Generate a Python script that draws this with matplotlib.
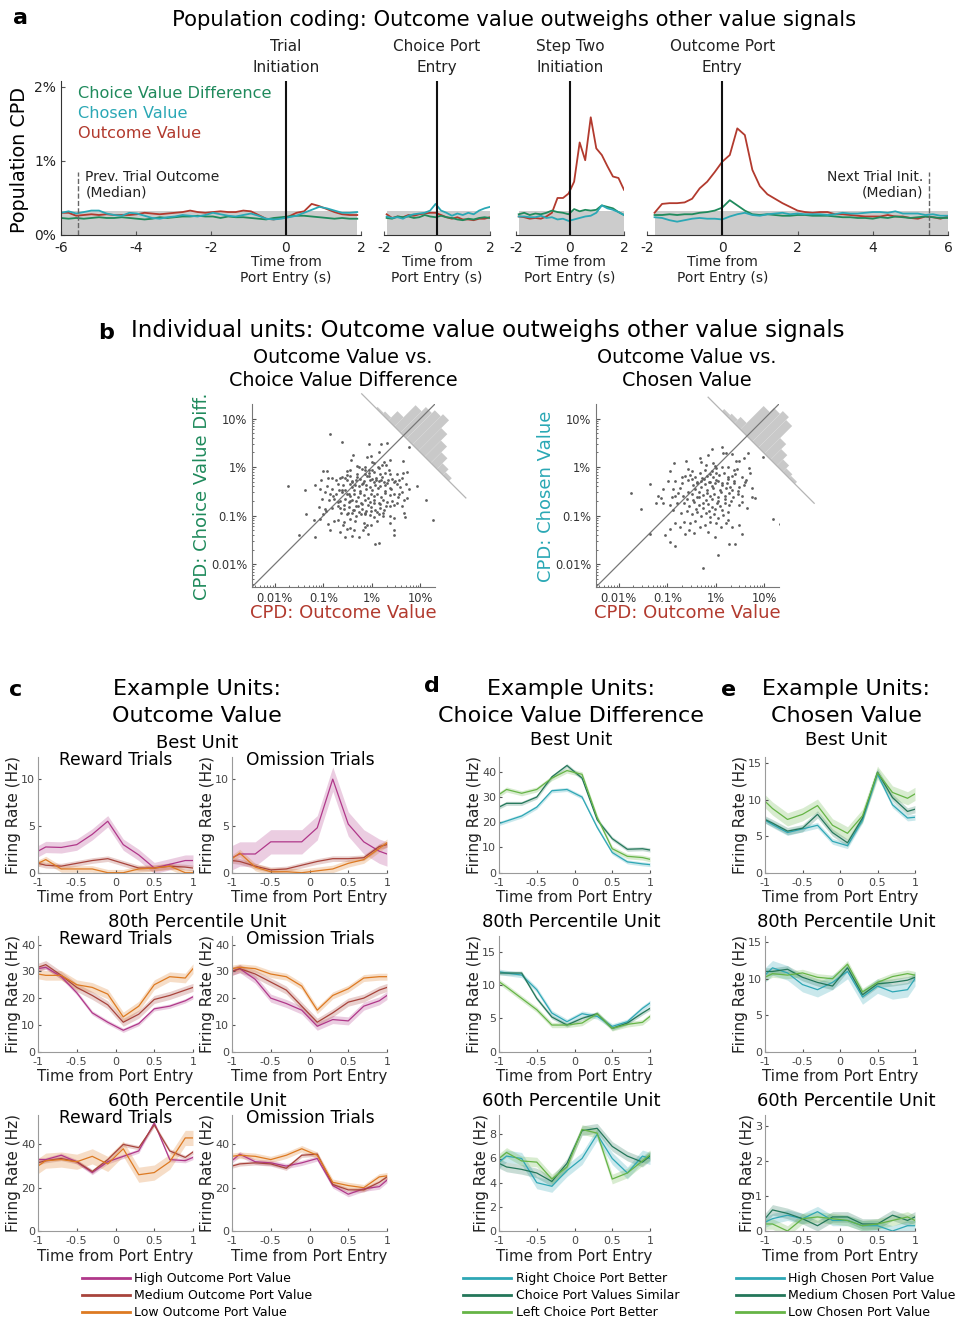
import numpy as np
import matplotlib
matplotlib.use("Agg")
import matplotlib.pyplot as plt
from matplotlib.transforms import Affine2D
from matplotlib.lines import Line2D

W, H = 958, 1319

# ---------------- panel a: population CPD (%) ----------------
t_init = np.linspace(-6.0, 1.9, 40)
t_choice = np.linspace(-1.9, 2.0, 20)
t_step = np.linspace(-1.9, 2.0, 20)
t_outcome = np.linspace(-1.8, 6.0, 40)

ov_init = [0.30, 0.30, 0.26, 0.27, 0.28, 0.27, 0.28, 0.27, 0.27, 0.27, 0.28, 0.30, 0.29, 0.28, 0.29, 0.30,
           0.31, 0.33, 0.31, 0.30, 0.31, 0.32, 0.31, 0.31, 0.33, 0.32, 0.27, 0.22, 0.21, 0.23, 0.25, 0.30,
           0.32, 0.42, 0.39, 0.35, 0.31, 0.28, 0.27, 0.27]
cv_init = [0.30, 0.32, 0.29, 0.31, 0.33, 0.33, 0.29, 0.27, 0.26, 0.30, 0.29, 0.26, 0.23, 0.22, 0.24, 0.25,
           0.27, 0.26, 0.25, 0.27, 0.30, 0.28, 0.26, 0.25, 0.27, 0.29, 0.26, 0.22, 0.21, 0.22, 0.24, 0.26,
           0.30, 0.34, 0.38, 0.36, 0.33, 0.30, 0.30, 0.31]
cvd_init = [0.23, 0.22, 0.23, 0.22, 0.23, 0.24, 0.23, 0.23, 0.24, 0.23, 0.22, 0.21, 0.22, 0.24, 0.23, 0.24,
            0.25, 0.25, 0.26, 0.25, 0.25, 0.23, 0.25, 0.24, 0.24, 0.23, 0.22, 0.21, 0.23, 0.24, 0.25, 0.26,
            0.26, 0.25, 0.24, 0.23, 0.22, 0.23, 0.22, 0.22]

ov_choice = [0.28, 0.23, 0.25, 0.24, 0.27, 0.26, 0.28, 0.29, 0.30, 0.30, 0.27, 0.24, 0.22, 0.24, 0.21, 0.21,
             0.20, 0.22, 0.22, 0.24]
cv_choice = [0.25, 0.23, 0.24, 0.22, 0.26, 0.28, 0.29, 0.30, 0.33, 0.42, 0.33, 0.30, 0.26, 0.29, 0.27, 0.30,
             0.28, 0.33, 0.36, 0.38]
cvd_choice = [0.23, 0.22, 0.25, 0.24, 0.25, 0.23, 0.24, 0.27, 0.25, 0.24, 0.26, 0.24, 0.23, 0.21, 0.20, 0.22,
              0.21, 0.23, 0.24, 0.23]

ov_step = [0.25, 0.24, 0.22, 0.23, 0.22, 0.25, 0.30, 0.50, 0.50, 0.56, 0.72, 1.25, 1.01, 1.59, 1.17, 1.08,
           0.93, 0.79, 0.77, 0.61]
cv_step = [0.25, 0.25, 0.24, 0.24, 0.26, 0.23, 0.24, 0.21, 0.22, 0.19, 0.21, 0.23, 0.25, 0.26, 0.30, 0.40,
           0.36, 0.34, 0.31, 0.27]
cvd_step = [0.28, 0.30, 0.27, 0.29, 0.28, 0.30, 0.33, 0.31, 0.30, 0.28, 0.35, 0.32, 0.34, 0.33, 0.34, 0.40,
            0.38, 0.36, 0.31, 0.27]

ov_outcome = [0.30, 0.42, 0.43, 0.43, 0.44, 0.49, 0.63, 0.72, 0.85, 0.99, 1.08, 1.44, 1.35, 0.88, 0.66, 0.55,
              0.49, 0.43, 0.38, 0.33, 0.31, 0.30, 0.31, 0.31, 0.28, 0.28, 0.27, 0.26, 0.25, 0.25, 0.25, 0.27,
              0.25, 0.25, 0.23, 0.22, 0.25, 0.24, 0.22, 0.25]
cv_outcome = [0.24, 0.23, 0.20, 0.18, 0.20, 0.22, 0.23, 0.22, 0.22, 0.21, 0.25, 0.28, 0.30, 0.27, 0.26, 0.28,
              0.29, 0.30, 0.28, 0.29, 0.28, 0.28, 0.28, 0.27, 0.28, 0.30, 0.29, 0.29, 0.30, 0.31, 0.31, 0.30,
              0.32, 0.29, 0.29, 0.29, 0.27, 0.28, 0.26, 0.26]
cvd_outcome = [0.27, 0.27, 0.28, 0.27, 0.28, 0.28, 0.30, 0.31, 0.33, 0.37, 0.47, 0.40, 0.33, 0.28, 0.27, 0.28,
               0.27, 0.26, 0.26, 0.27, 0.27, 0.26, 0.26, 0.26, 0.25, 0.24, 0.24, 0.23, 0.23, 0.22, 0.24, 0.23,
               0.25, 0.24, 0.23, 0.24, 0.25, 0.24, 0.23, 0.23]

null_band = 0.32          # shuffled-CPD band top (%)
prev_outcome_median = -5.55
next_init_median = 5.5

# ---------------- panel b: per-unit CPD, log10(%) ----------------
b1_ov = [-0.855, -0.615, -0.051, 0.196, 0.313, 0.141, -0.388, 0.76, -0.10, -0.01, -0.43, 0.038, 0.643, 0.38, 0.244,
         -0.271, -0.203, -0.134, -0.065, 0.004, 0.12, 0.21, -0.443, -0.512, -1.007, -0.924, -0.663, -0.615, -0.306,
         -0.134, 0.038, 0.093, 0.175, 0.278, 0.381, 0.519, 0.643, 0.725, 0.347, -0.1, -0.443, -0.512, -0.065,
         -1.048, -0.911, -0.821, -0.732, -0.512, -0.409, -0.319, -0.237, -0.155, -0.045, 0.004, 0.052, 0.141,
         0.189, 0.244, 0.333, 0.416, 0.485, 0.553, 0.622, -0.704, -0.594, -0.457, -0.409, -0.34, -0.271, -0.203,
         -0.113, -0.031, 0.072, 0.175, 0.278, 0.381, 0.519, 0.588, 0.76, 0.931, -0.924, -1.062, -0.821, -0.684,
         -0.546, -0.959, -0.855, -0.732, -0.615, -0.512, -0.443, -0.361, -0.292, -0.237, -0.155, -0.086, -0.017,
         0.052, 0.107, 0.189, 0.278, 0.368, 0.464, 0.533, 0.622, 0.725, -1.027, -0.89, -0.787, -0.663, -0.546,
         -0.478, -0.409, -0.319, -0.223, -0.134, -0.045, 0.038, 0.141, 0.23, 0.313, 0.416, 0.519, 0.67, 1.124,
         -1.096, -0.959, -0.821, -0.704, -0.581, -0.478, -0.374, -0.292, -0.203, -0.113, -0.017, 0.072, 0.175,
         0.258, 0.368, 0.464, -0.636, -0.512, -0.409, -0.319, -0.223, -0.134, -0.045, 0.052, 0.141, 0.23, -1.35,
         -1.199, -1.075, -1.007, -0.911, -0.773, -0.704, -0.581, -0.443, -0.34, -0.168, -0.1, -0.017, 0.107,
         0.368, 0.368, 0.656, 0.691, 1.261, -0.855, -0.649, -0.546, -0.409, -0.271, -0.182, -0.086, -0.134,
         0.072, 0.155, 0.45, 0.45, -1.508, -1.179, -1.728, -1.371, -1.165, -0.512, -0.374,
         -0.55, -0.42, -0.3, -0.18, -0.05, 0.08, 0.2, 0.32, 0.45, -0.62, -0.48, -0.36, -0.24, -0.12, 0.0, 0.13,
         0.26, 0.4, -0.7, -0.57, -0.45, -0.33, -0.2, -0.08, 0.05, 0.17, 0.3, -0.5, -0.38, -0.26, -0.14, -0.02,
         0.1, 0.22, -0.8, -0.66, 0.55, 0.62, -0.95, 0.7, -0.3, -0.15, 0.0, 0.15, 0.3, -0.45, -0.6, 0.45]
b1_cvd = [0.672, 0.521, 0.473, 0.486, 0.500, 0.315, 0.246, 0.404, 0.21, 0.225, 0.143, 0.088, 0.129, 0.143, 0.108,
          -0.008, -0.029, 0.005, -0.05, -0.063, 0.005, 0.04, -0.063, -0.084, -0.077, -0.084, -0.215, -0.201, -0.132,
          -0.132, -0.098, -0.215, -0.132, -0.119, -0.132, -0.146, -0.119, -0.105, -0.063, -0.187, -0.187, -0.167,
          -0.119, -0.256, -0.215, -0.215, -0.27, -0.256, -0.283, -0.256, -0.242, -0.283, -0.27, -0.235, -0.304,
          -0.283, -0.256, -0.304, -0.27, -0.235, -0.283, -0.256, -0.215, -0.352, -0.373, -0.338, -0.407, -0.373,
          -0.393, -0.338, -0.373, -0.407, -0.359, -0.393, -0.373, -0.421, -0.352, -0.407, -0.441, -0.393, -0.393,
          -0.441, -0.441, -0.462, -0.462, -0.510, -0.545, -0.558, -0.510, -0.545, -0.600, -0.558, -0.613, -0.531,
          -0.579, -0.627, -0.545, -0.600, -0.558, -0.613, -0.531, -0.579, -0.545, -0.613, -0.510, -0.627, -0.648,
          -0.668, -0.648, -0.696, -0.648, -0.716, -0.668, -0.696, -0.737, -0.682, -0.716, -0.668, -0.737, -0.682,
          -0.716, -0.696, -0.737, -0.682, -0.668, -0.82, -0.854, -0.833, -0.806, -0.854, -0.82, -0.875, -0.806,
          -0.854, -0.902, -0.82, -0.875, -0.833, -0.888, -0.806, -0.785, -0.943, -0.971, -0.943, -1.012, -0.971,
          -0.943, -0.991, -1.026, -0.957, -1.012, -0.957, -1.081, -1.06, -0.971, -1.177, -1.108, -1.081, -1.129,
          -1.06, -1.108, -1.149, -1.198, -1.198, -1.108, -1.012, -1.149, -0.943, -1.026, -1.094, -1.301, -1.335,
          -1.438, -1.424, -1.438, -1.301, -1.383, -1.232, -1.589, -1.562, -1.39, -1.287, -1.39, -1.438, -0.387,
          -0.476, -0.359, -1.266, -1.301,
          -0.22, -0.3, -0.2, -0.32, -0.18, -0.26, -0.2, -0.33, -0.3, -0.48, -0.55, -0.47, -0.5, -0.45, -0.48, -0.44,
          -0.5, -0.46, -0.72, -0.78, -0.7, -0.8, -0.76, -0.79, -0.73, -0.77, -0.8, -0.95, -0.88, -0.92, -0.97, -0.9,
          -0.93, -0.95, -0.6, -0.85, -0.55, -0.8, -0.9, -0.35, 0.02, -0.05, 0.1, -0.02, 0.05, -1.25, -1.2, -1.05]

b2_ov = [0.121, -0.086, 0.659, -0.169, 0.969, -0.624, -0.859, -0.328, -0.307, -0.052, -0.017, 0.155, 0.328, 0.41,
         0.479, 0.569, 0.259, 0.383, 0.431, 0.134, -0.086, -0.224, -0.5, -0.948, -0.583, 0.686, -0.638, -0.534,
         -0.431, -0.328, -0.279, -0.19, -0.121, -0.052, -0.003, 0.066, 0.176, 0.245, 0.328, 0.397, 0.534, 0.617,
         0.707, -0.997, -0.845, -0.693, -0.569, -0.466, -0.397, -0.307, -0.224, -0.141, -0.086, -0.017, 0.052,
         0.134, 0.224, 0.293, 0.383, 0.466, 0.569, 0.741, -0.741, -0.879, -1.086, -1.19, -1.121, -0.914, -0.776,
         -0.672, -0.569, -0.486, -0.397, -0.348, -0.259, -0.19, -0.121, -0.031, 0.038, 0.107, 0.19, 0.272, 0.362,
         0.452, 0.534, 0.741, 0.797, -1.224, -1.086, -0.948, -0.81, -0.652, -0.555, -0.445, -0.348, -0.259, -0.155,
         -0.072, 0.017, 0.086, 0.19, 0.272, 0.466, 0.534, -0.879, -0.721, -0.603, -0.5, -0.397, -0.307, -0.21,
         -0.121, -0.031, 0.052, 0.155, 0.245, -0.652, -0.534, -0.431, -0.328, -0.224, -0.121, -0.003, 0.107,
         0.203, 0.328, 0.479, 0.534, -0.948, -0.845, -0.741, -0.548, -1.755, -1.534, -1.362, -1.362, -1.052,
         -0.948, -0.845, -0.638, -0.445, -0.259, 0.052, 0.272, 0.397, 1.176, 1.314, -0.155, -0.017,
         -0.5, -0.38, -0.25, -0.12, 0.0, 0.12, 0.25, 0.38, -0.44, -0.31, -0.18, -0.05, 0.08, 0.2, 0.33, 0.46,
         -0.6, -0.47, -0.34, -0.21, -0.08, 0.05, 0.18, 0.31, -0.4, -0.27, -0.14, -0.01, 0.12, 0.25, -0.7, 0.6,
         -0.85, 0.65, -0.2, 0.0, 0.2]
b2_cv = [0.423, 0.368, 0.299, 0.251, 0.217, 0.134, 0.079, 0.182, 0.113, 0.093, 0.024, 0.285, 0.272, 0.134, 0.134,
         0.182, -0.004, -0.059, -0.045, 0.01, -0.073, -0.059, -0.073, -0.08, -0.045, -0.024, -0.183, -0.162,
         -0.21, -0.128, -0.231, -0.183, -0.142, -0.21, -0.114, -0.162, -0.128, -0.21, -0.183, -0.142, -0.21,
         -0.265, -0.128, -0.279, -0.279, -0.334, -0.265, -0.369, -0.321, -0.279, -0.348, -0.3, -0.39, -0.334,
         -0.279, -0.369, -0.321, -0.403, -0.334, -0.417, -0.369, -0.438, -0.438, -0.458, -0.458, -0.596, -0.644,
         -0.624, -0.541, -0.596, -0.507, -0.555, -0.61, -0.507, -0.576, -0.527, -0.596, -0.555, -0.624, -0.507,
         -0.596, -0.541, -0.624, -0.555, -0.596, -0.61, -0.644, -0.748, -0.748, -0.782, -0.734, -0.748, -0.803,
         -0.713, -0.782, -0.734, -0.761, -0.817, -0.734, -0.803, -0.748, -0.782, -0.782, -0.713, -0.885, -0.94,
         -0.899, -0.968, -0.92, -1.009, -0.954, -1.037, -0.968, -1.058, -0.989, -1.092, -1.126, -1.161, -1.106,
         -1.23, -1.195, -1.126, -1.161, -1.23, -1.147, -1.243, -1.195, -1.381, -1.285, -1.161, -1.23, -1.299,
         -0.527, -0.865, -0.355, -1.388, -1.402, -1.54, -1.622, -1.381, -1.367, -2.077, -1.801, -1.588, -1.588,
         -1.071, -1.182, -1.333, -1.436,
         -0.25, -0.3, -0.24, -0.3, -0.26, -0.32, -0.25, -0.28, -0.45, -0.42, -0.47, -0.43, -0.48, -0.44, -0.47,
         -0.5, -0.66, -0.68, -0.62, -0.67, -0.65, -0.7, -0.66, -0.69, -0.87, -0.85, -0.9, -0.86, -0.88, -0.92,
         -0.2, -0.3, -0.6, -0.85, 0.05, -0.02, 0.3]

# rotated histograms of log10(CPD_outcome / CPD_other)
h1_centers = [-1.0, -0.75, -0.5, -0.25, 0.0, 0.25, 0.5, 0.75, 1.0, 1.25, 1.5, 1.75]
h1_counts = [2, 4, 13, 30, 36, 40, 43, 32, 23, 15, 8, 4]
h2_centers = [-0.9, -0.65, -0.4, -0.15, 0.1, 0.35, 0.6, 0.85, 1.1, 1.35, 1.6, 1.85]
h2_counts = [3, 5, 9, 33, 39, 43, 39, 22, 15, 9, 5, 3]

# ---------------- panels c-e: example units (Hz) ----------------
t_unit = [-1.0, -0.9, -0.7, -0.5, -0.3, -0.1, 0.1, 0.3, 0.5, 0.7, 0.9, 1.0]

c_best_rew = [[2.3, 2.75, 2.7, 3.0, 4.1, 5.5, 3.0, 1.9, 0.5, 0.9, 1.3, 1.3],
              [1.0, 0.8, 0.7, 1.0, 1.3, 1.5, 1.0, 0.5, 0.5, 0.7, 0.6, 0.5],
              [1.0, 1.4, 0.4, 0.4, 0.4, 0.0, 0.0, 0.4, 0.5, 0.7, 0.0, 0.0]]
c_best_om = [[1.6, 2.0, 2.0, 3.3, 3.3, 3.3, 4.8, 10.0, 5.2, 3.3, 2.3, 2.0],
             [1.3, 1.2, 0.7, 0.3, 0.4, 0.8, 1.2, 1.5, 1.5, 1.6, 2.8, 3.0],
             [1.5, 2.1, 0.6, 0.1, 0.1, 0.0, 0.2, 0.4, 1.0, 1.4, 2.6, 3.2]]
c_80_rew = [[31, 31.5, 28, 22, 14.5, 11, 8, 10.5, 16, 17, 19, 20.5],
            [31.5, 32.5, 28.5, 24, 21, 17.5, 11, 14, 19.5, 21, 23, 24],
            [29, 28.5, 28.5, 25, 24, 21.5, 13, 17, 25, 28, 27.5, 31]]
c_80_om = [[30, 31, 27, 20, 18, 15.5, 9.5, 12, 11.5, 17, 19, 21],
           [30, 31, 29, 26, 23, 17, 11, 14.5, 18.5, 20, 23, 24],
           [31, 31.5, 31, 29, 28, 24.5, 15.5, 21, 23.5, 27.5, 28, 28]]
c_60_rew = [[33, 33, 35, 32, 27, 32, 34.5, 37, 50, 33, 32.5, 34],
            [31.5, 32.5, 33.5, 32, 27.5, 33, 40, 38.5, 49, 37, 34, 36.5],
            [30, 32.5, 33, 32, 34.5, 31, 38, 26, 27, 32, 43, 43]]
c_60_om = [[32.5, 35.5, 32, 31.5, 30, 31.5, 33.5, 21, 17, 19.5, 20.5, 23.5],
           [30, 31, 31.5, 31, 29, 35, 35.5, 21.5, 19, 19, 22.5, 25],
           [34.5, 35, 34.5, 33, 35, 38, 35, 22.5, 21, 20, 25, 25.5]]

d_best = [[19.5, 20.5, 22.5, 26, 32.5, 33, 30, 18, 8, 4.3, 3.5, 3.2],
          [26, 27.5, 27.5, 30, 38, 42.5, 37.5, 21, 13.5, 9.3, 9.5, 9.0],
          [31, 33, 31.5, 33, 37.5, 40.5, 39, 22, 9.5, 6.5, 6, 5.3]]
d_80 = [[12, 11.8, 11.5, 9.3, 5.8, 4.5, 5.7, 5.3, 3.8, 4.5, 6.5, 7.3],
        [11.8, 11.8, 11.8, 8.0, 5.2, 4.0, 5.0, 5.7, 3.5, 4.3, 5.8, 6.5],
        [10.5, 9.7, 8, 6.3, 4, 4, 4.3, 5.7, 3.5, 4.1, 4.4, 5.3]]
d_60 = [[5.7, 6.2, 6.0, 4.0, 3.7, 5.0, 6.0, 8.0, 6.0, 4.8, 6.2, 6.0],
        [5.6, 5.3, 5.1, 4.8, 4.1, 5.6, 8.3, 8.5, 7.0, 6.2, 5.7, 6.2],
        [6.0, 6.5, 5.8, 5.7, 4.3, 5.3, 8.4, 8.1, 4.3, 4.8, 5.8, 6.3]]

e_best = [[7.2, 6.6, 5.5, 6.0, 6.5, 4.3, 3.7, 7.2, 13.5, 9.3, 7.5, 7.6],
          [7.3, 6.8, 5.7, 6.1, 8.0, 5.5, 4.1, 7.5, 13.8, 10.3, 8.4, 8.7],
          [9.8, 8.8, 7.3, 8.0, 9.2, 6.5, 5.4, 7.8, 13.7, 11.0, 10.2, 10.8]]
e_80 = [[10.5, 11.5, 10.8, 9.2, 8.5, 9.5, 11.0, 7.5, 9.0, 8.2, 8.5, 10.0],
        [11.0, 11.0, 11.3, 10.2, 9.5, 9.0, 11.5, 7.8, 9.3, 9.5, 9.8, 10.2],
        [10.2, 10.7, 10.5, 10.8, 10.2, 10.0, 12.0, 8.2, 9.5, 10.3, 10.7, 10.5]]
e_60 = [[0.25, 0.35, 0.45, 0.35, 0.55, 0.3, 0.3, 0.15, 0.15, 0.0, 0.15, 0.15],
        [0.35, 0.6, 0.5, 0.35, 0.15, 0.4, 0.4, 0.2, 0.2, 0.45, 0.3, 0.4],
        [0.2, 0.2, 0.0, 0.35, 0.4, 0.35, 0.3, 0.15, 0.2, 0.3, 0.4, 0.3]]

# band half-widths (SEM) per series
sem_c = {'best_rew': [0.6, 0.3, 0.35], 'best_om': [1.3, 0.3, 0.4],
         '80_rew': [0.8, 1.5, 1.8], '80_om': [1.5, 1.5, 1.3],
         '60_rew': [1.0, 1.0, 3.5], '60_om': [1.2, 1.0, 1.5]}
sem_d = {'best': [0.8, 0.8, 1.0], '80': [0.4, 0.3, 0.4], '60': [0.5, 0.4, 0.4]}
sem_e = {'best': [0.4, 0.5, 0.9], '80': [1.0, 0.5, 0.5], '60': [0.15, 0.15, 0.15]}

legend_c = ['High Outcome Port Value', 'Medium Outcome Port Value', 'Low Outcome Port Value']
legend_d = ['Right Choice Port Better', 'Choice Port Values Similar', 'Left Choice Port Better']
legend_e = ['High Chosen Port Value', 'Medium Chosen Port Value', 'Low Chosen Port Value']

# colours
col_cvd, col_cv, col_ov = '#1f8a5c', '#2aa8b5', '#b23a2e'
cols_c = ['#b0388a', '#a8443c', '#dd7a22']
cols_de = ['#2ea7b5', '#24775a', '#66b446']

plt.rcParams['font.family'] = ['DejaVu Sans']
plt.rcParams['xtick.direction'] = 'in'
plt.rcParams['ytick.direction'] = 'in'
plt.rcParams['xtick.major.size'] = 3
plt.rcParams['ytick.major.size'] = 3
plt.rcParams['xtick.color'] = '#555555'
plt.rcParams['ytick.color'] = '#555555'
plt.rcParams['axes.linewidth'] = 0.8

fig = plt.figure(figsize=(W / 100, H / 100), dpi=100)


def pax(l, t, w, h):
    return fig.add_axes([l / W, 1 - (t + h) / H, w / W, h / H])


def ptext(x, y, s, **kw):
    kw.setdefault('ha', 'center')
    kw.setdefault('va', 'center')
    fig.text(x / W, 1 - y / H, s, **kw)


# ======================= panel a =======================
ptext(20, 18, 'a', fontsize=16, fontweight='bold')
ptext(514, 20, 'Population coding: Outcome value outweighs other value signals', fontsize=15.2)
ptext(20, 160, 'Population CPD', rotation=90, fontsize=13.8)

a_specs = [(61, 300, (-6, 2), [-6, -4, -2, 0, 2], t_init, ov_init, cv_init, cvd_init, 'Trial\nInitiation'),
           (384, 106, (-2, 2), [-2, 0, 2], t_choice, ov_choice, cv_choice, cvd_choice, 'Choice Port\nEntry'),
           (516, 108, (-2, 2), [-2, 0, 2], t_step, ov_step, cv_step, cvd_step, 'Step Two\nInitiation'),
           (647, 301, (-2, 6), [-2, 0, 2, 4, 6], t_outcome, ov_outcome, cv_outcome, cvd_outcome,
            'Outcome Port\nEntry')]
a_axes = []
for i, (left, width, xl, xt, t, ov, cv, cvd, event) in enumerate(a_specs):
    ax = pax(left, 81, width, 154)
    ax.fill_between([t[0], t[-1]], 0, null_band, color='#cccccc', lw=0)
    ax.plot(t, ov, color=col_ov, lw=1.3)
    ax.plot(t, cvd, color=col_cvd, lw=1.3)
    ax.plot(t, cv, color=col_cv, lw=1.3)
    ax.axvline(0, color='#111111', lw=1.5)
    ax.set_xlim(*xl)
    ax.set_ylim(0, 2.08)
    ax.set_xticks(xt)
    ax.set_xticklabels([str(v) for v in xt], fontsize=10, color='#222222')
    ax.tick_params(axis='x', pad=4)
    for s in ['top', 'right']:
        ax.spines[s].set_visible(False)
    ax.spines['bottom'].set_color('#333333')
    if i == 0:
        ax.set_yticks([0, 1, 2])
        ax.set_yticklabels(['0%', '1%', '2%'], fontsize=10, color='#222222')
        ax.spines['left'].set_color('#333333')
    else:
        ax.spines['left'].set_visible(False)
        ax.set_yticks([])
    ax.text(0, -0.225, 'Time from\nPort Entry (s)', transform=ax.get_xaxis_transform(),
            ha='center', va='center', fontsize=10, color='#222222', linespacing=1.2)
    ax.text(0, 1.04, event, transform=ax.get_xaxis_transform(), ha='center', va='bottom',
            fontsize=11, color='#222222', linespacing=1.45)
    a_axes.append(ax)

ax = a_axes[0]
ax.plot([prev_outcome_median] * 2, [0, 0.85], ls='--', color='#666666', lw=1)
ax.text(prev_outcome_median + 0.2, 0.68, 'Prev. Trial Outcome\n(Median)', fontsize=10, color='#222222',
        ha='left', va='center', linespacing=1.2)
ax = a_axes[3]
ax.plot([next_init_median] * 2, [0, 0.85], ls='--', color='#666666', lw=1)
ax.text(next_init_median - 0.15, 0.68, 'Next Trial Init.\n(Median)', fontsize=10, color='#222222',
        ha='right', va='center', linespacing=1.2)

ptext(78, 93, 'Choice Value Difference', ha='left', fontsize=11.6, color=col_cvd)
ptext(78, 114, 'Chosen Value', ha='left', fontsize=11.6, color=col_cv)
ptext(78, 134, 'Outcome Value', ha='left', fontsize=11.6, color=col_ov)

# ======================= panel b =======================
ptext(106, 333, 'b', fontsize=16, fontweight='bold')
ptext(488, 331, 'Individual units: Outcome value outweighs other value signals', fontsize=16.5)

lo, hi = -2.47, 1.3
k_px = 1.0 / (48.5 * np.sqrt(2))   # log units per histogram count along each axis
b_specs = [(252, b1_ov, b1_cvd, h1_centers, h1_counts, 0.65, (-1.72, 2.57),
            'Outcome Value vs.\nChoice Value Difference', 'CPD: Choice Value Diff.', col_cvd),
           (596, b2_ov, b2_cv, h2_centers, h2_counts, 0.64, (-1.6, 2.77),
            'Outcome Value vs.\nChosen Value', 'CPD: Chosen Value', col_cv)]
for left, xs, ys, hc, hn, cross, rspan, title, ylab, ycol in b_specs:
    ax = pax(left, 404, 183, 183)
    T = Affine2D(np.array([[0.5, k_px, cross], [-0.5, k_px, cross], [0, 0, 1]])) + ax.transData
    ax.bar(hc, hn, width=0.25, color='#c9c9c9', lw=0, transform=T, clip_on=False, zorder=1)
    ax.plot(list(rspan), [0, 0], color='#b5b5b5', lw=0.9, transform=T, clip_on=False, zorder=1)
    ax.plot([lo, hi], [lo, hi], color='#777777', lw=0.9, zorder=2)
    ax.scatter(xs, ys, s=4, color='#5f5f5f', lw=0, zorder=3)
    ax.set_xlim(lo, hi)
    ax.set_ylim(lo, hi)
    major = [-2, -1, 0, 1]
    labels = ['0.01%', '0.1%', '1%', '10%']
    minor = [np.log10(m) + e for e in range(-3, 2) for m in range(2, 10)
             if lo < np.log10(m) + e < hi]
    ax.set_xticks(major)
    ax.set_xticklabels(labels, fontsize=8.3, color='#333333')
    ax.set_yticks(major)
    ax.set_yticklabels(labels, fontsize=8.3, color='#333333')
    ax.set_xticks(minor, minor=True)
    ax.set_yticks(minor, minor=True)
    ax.tick_params(which='minor', length=1.5)
    for s in ['top', 'right']:
        ax.spines[s].set_visible(False)
    for s in ['left', 'bottom']:
        ax.spines[s].set_color('#777777')
    cx = left + 91
    ptext(cx, 369, title, fontsize=13.8, linespacing=1.3)
    ptext(cx, 613, 'CPD: Outcome Value', fontsize=13, color=col_ov)
    ptext(left - 50, 496, ylab, rotation=90, fontsize=13, color=ycol)

# ======================= panels c-e =======================
ptext(16, 690, 'c', fontsize=16, fontweight='bold')
ptext(432, 686, 'd', fontsize=16, fontweight='bold')
ptext(729, 690, 'e', fontsize=16, fontweight='bold')
for cx, line2 in [(197, 'Outcome Value'), (571, 'Choice Value Difference'), (846, 'Chosen Value')]:
    ptext(cx, 689, 'Example Units:', fontsize=16)
    ptext(cx, 716, line2, fontsize=16)

row_bottoms = [872.7, 1051.7, 1231]
row_names = ['Best Unit', '80th Percentile Unit', '60th Percentile Unit']
row_title_y = [743, 922, 1101]


def unit_axes(left, width, row, series, sems, cols, ytop, yticks):
    ax = pax(left, row_bottoms[row] - 116, width, 116)
    for y, e, c in zip(series, sems, cols):
        y = np.asarray(y, float)
        ax.fill_between(t_unit, y - e, y + e, color=c, alpha=0.25, lw=0)
    for y, c in zip(series, cols):
        ax.plot(t_unit, y, color=c, lw=0.9)
    ax.set_xlim(-1, 1)
    ax.set_ylim(0, ytop)
    ax.set_xticks([-1, -0.5, 0, 0.5, 1])
    ax.set_xticklabels(['-1', '-0.5', '0', '0.5', '1'], fontsize=8, color='#444444')
    ax.set_yticks(yticks)
    ax.set_yticklabels([str(v) for v in yticks], fontsize=8, color='#444444')
    ax.tick_params(axis='x', pad=3.5, length=2)
    ax.tick_params(axis='y', pad=2, length=2)
    for s in ['top', 'right']:
        ax.spines[s].set_visible(False)
    for s in ['left', 'bottom']:
        ax.spines[s].set_color('#9a9a9a')
    ax.set_xlabel('Time from Port Entry', fontsize=10.8, labelpad=2, color='#222222')
    ax.set_ylabel('Firing Rate (Hz)', fontsize=11, labelpad=0, color='#222222')
    return ax


c_rows = [(c_best_rew, c_best_om, sem_c['best_rew'], sem_c['best_om'], 12.4, [0, 5, 10]),
          (c_80_rew, c_80_om, sem_c['80_rew'], sem_c['80_om'], 43.3, [0, 10, 20, 30, 40]),
          (c_60_rew, c_60_om, sem_c['60_rew'], sem_c['60_om'], 53.6, [0, 20, 40])]
for r, (rew, om, se_r, se_o, ytop, yt) in enumerate(c_rows):
    unit_axes(38, 155, r, rew, se_r, cols_c, ytop, yt)
    unit_axes(232, 155, r, om, se_o, cols_c, ytop, yt)
    ptext(197, row_title_y[r], row_names[r], fontsize=13)
    ptext(116, row_title_y[r] + 17, 'Reward Trials', fontsize=12.3)
    ptext(310, row_title_y[r] + 17, 'Omission Trials', fontsize=12.3)

d_rows = [(d_best, sem_d['best'], 46, [0, 10, 20, 30, 40]),
          (d_80, sem_d['80'], 17.4, [0, 5, 10, 15]),
          (d_60, sem_d['60'], 9.6, [0, 2, 4, 6, 8])]
e_rows = [(e_best, sem_e['best'], 15.9, [0, 5, 10, 15]),
          (e_80, sem_e['80'], 15.9, [0, 5, 10, 15]),
          (e_60, sem_e['60'], 3.3, [0, 1, 2, 3])]
for r in range(3):
    s, se, ytop, yt = d_rows[r]
    unit_axes(499, 151, r, s, se, cols_de, ytop, yt)
    ptext(571, row_title_y[r] - (3 if r == 0 else 0), row_names[r], fontsize=13)
    s, se, ytop, yt = e_rows[r]
    unit_axes(765, 150, r, s, se, cols_de, ytop, yt)
    ptext(846, row_title_y[r] - (3 if r == 0 else 0), row_names[r], fontsize=13)

for x0, labels, cols in [(82, legend_c, cols_c), (463, legend_d, cols_de), (736, legend_e, cols_de)]:
    handles = [Line2D([], [], color=c, lw=2) for c in cols]
    fig.legend(handles, labels, loc='upper left', bbox_to_anchor=(x0 / W, 1 - 1272 / H),
               frameon=False, fontsize=9, handlelength=3.8, handletextpad=0.4,
               labelspacing=0.32, borderpad=0, borderaxespad=0)

fig.savefig('out.png', dpi=100)
